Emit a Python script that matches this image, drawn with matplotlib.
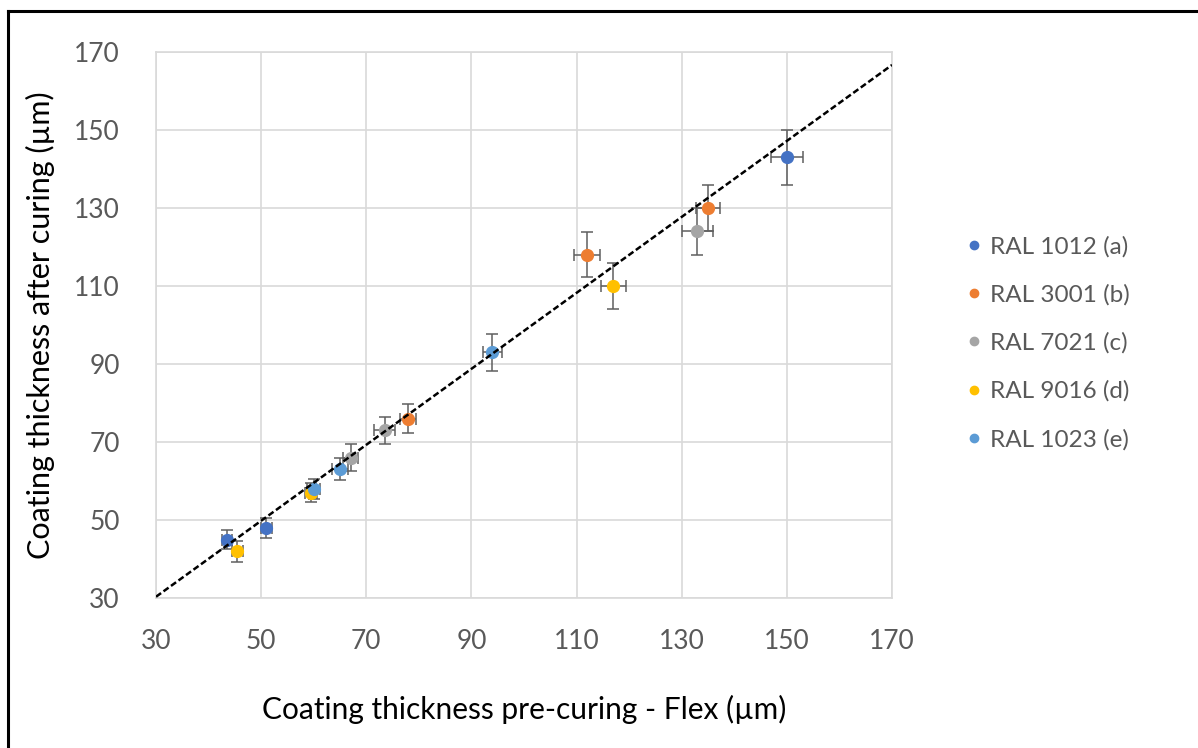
import numpy as np
import matplotlib
matplotlib.use("Agg")
import matplotlib.pyplot as plt
from matplotlib.lines import Line2D

plt.rcParams['font.family'] = ['Lato', 'DejaVu Sans']

# series data (x = pre-curing, y = after curing)
labels = ["RAL 1012 (a)", "RAL 3001 (b)", "RAL 7021 (c)", "RAL 9016 (d)", "RAL 1023 (e)"]
colors = ["#4472C4", "#ED7D31", "#A5A5A5", "#FFC000", "#5B9BD5"]

x_a = [43.5, 51, 150]
y_a = [45, 48, 143]
xe_a = [1.0, 1.0, 3.0]
ye_a = [2.5, 2.5, 7.0]

x_b = [78, 112, 135]
y_b = [76, 118, 130]
xe_b = [1.5, 2.4, 2.2]
ye_b = [3.8, 5.8, 6.0]

x_c = [67, 73.5, 133]
y_c = [66, 73, 124]
xe_c = [1.5, 2.0, 3.0]
ye_c = [3.5, 3.5, 6.0]

x_d = [45.5, 59.5, 117]
y_d = [42, 57, 110]
xe_d = [1.0, 1.2, 2.4]
ye_d = [2.7, 2.5, 5.8]

x_e = [60, 65, 94]
y_e = [58, 63, 93]
xe_e = [1.2, 1.5, 1.8]
ye_e = [2.5, 2.8, 4.7]

# dashed trendline y = m*x + b
trend_m = 0.974
trend_b = 1.1
trend_x = [30, 170]

ticks = [30, 50, 70, 90, 110, 130, 150, 170]

series = [(x_a, y_a, xe_a, ye_a), (x_b, y_b, xe_b, ye_b), (x_c, y_c, xe_c, ye_c),
          (x_d, y_d, xe_d, ye_d), (x_e, y_e, xe_e, ye_e)]

fig = plt.figure(figsize=(11.98, 7.48), dpi=100)
ax = fig.add_axes([156 / 1198, 1 - 598 / 748, 736 / 1198, 546 / 748])

for (xs, ys, xe, ye), lab, col in zip(series, labels, colors):
    ax.errorbar(xs, ys, xerr=xe, yerr=ye, fmt="none", ecolor="#5f5f5f",
                elinewidth=1.1, capsize=4, capthick=1.1, zorder=3)
    ax.plot(xs, ys, "o", color=col, ms=8.5, zorder=4, label=lab)

tx = np.array(trend_x)
ax.plot(tx, trend_m * tx + trend_b, color="black", lw=1.8, ls=(0, (2.5, 1.2)), zorder=5)

ax.set_xlim(30, 170)
ax.set_ylim(30, 170)
ax.set_xticks(ticks)
ax.set_yticks(ticks)
ax.grid(True, color="#D9D9D9", lw=1.2)
ax.set_axisbelow(True)
for s in ax.spines.values():
    s.set_color("#D9D9D9")
    s.set_linewidth(1.2)
ax.tick_params(length=0, labelsize=19, labelcolor="#595959")
ax.tick_params(axis="x", pad=22)
ax.tick_params(axis="y", pad=26)

ax.set_xlabel("Coating thickness pre-curing - Flex (µm)", fontsize=21.5, labelpad=30)
ax.set_ylabel("Coating thickness after curing (µm)", fontsize=22, labelpad=14)

handles = [Line2D([], [], marker="o", ls="none", color=c, ms=6) for c in colors]
leg = fig.legend(handles, labels, loc="center left", bbox_to_anchor=(945 / 1198, 1 - 343 / 748),
                 frameon=False, fontsize=17.5, labelcolor="#595959", handlelength=0.6,
                 handletextpad=0.35, labelspacing=1.1)

# outer frame (top and left edge only, as in the screenshot)
fig.add_artist(Line2D([8 / 1198, 8 / 1198], [0, 1 - 11 / 748], transform=fig.transFigure, color="black", lw=2.2))
fig.add_artist(Line2D([8 / 1198, 1], [1 - 11 / 748, 1 - 11 / 748], transform=fig.transFigure, color="black", lw=2.2))

fig.savefig("out.png", dpi=100)
